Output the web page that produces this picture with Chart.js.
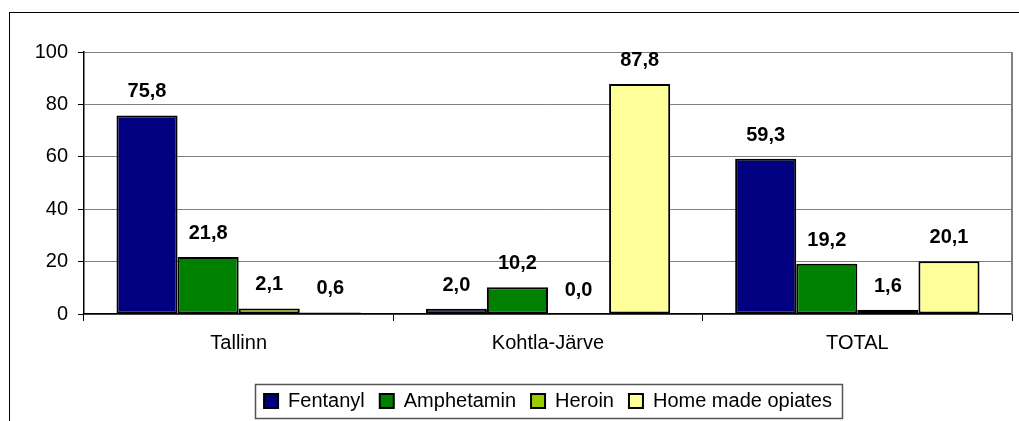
<!DOCTYPE html>
<html>
<head>
<meta charset="utf-8">
<script src="https://cdn.jsdelivr.net/npm/chart.js@4"></script>
<style>
  body { margin: 0; background: #fff; }
  #wrap { width: 1019px; height: 421px; }
</style>
</head>
<body>
<div id="wrap"><canvas id="barChart" width="1019" height="421"></canvas></div>
<script>
var categories = ['Tallinn', 'Kohtla-Järve', 'TOTAL'];
var fentanyl = [75.8, 2.0, 59.3];
var amphetamin = [21.8, 10.2, 19.2];
var heroin = [2.1, 0.0, 1.6];
var homeMade = [0.6, 87.8, 20.1];
var yTicks = [0, 20, 40, 60, 80, 100];

var font = 'Arial, "Liberation Sans", sans-serif';

// outer frame, right plot border, legend box
var framePlugin = {
    id: 'frame',
    afterLayout: function (chart) {
        // center legend under the plot area
        var lg = chart.legend, a = chart.chartArea;
        var shift = (a.left + a.right) / 2 - (lg.left + lg.right) / 2;
        lg.left += shift;
        lg.right += shift;
    },
    beforeDraw: function (chart) {
        var c = chart.ctx;
        c.save();
        c.fillStyle = '#fff';
        c.fillRect(0, 0, chart.width, chart.height);
        c.strokeStyle = '#000';
        c.lineWidth = 1;
        c.strokeRect(9.5, 12.5, 1200, 600);
        c.restore();
    },
    afterDraw: function (chart) {
        var c = chart.ctx, a = chart.chartArea;
        c.save();
        c.strokeStyle = '#808080';
        c.lineWidth = 2;
        c.beginPath();
        c.moveTo(a.right, a.top);
        c.lineTo(a.right, a.bottom);
        c.stroke();
        var boxes = chart.legend.legendHitBoxes;
        if (boxes && boxes.length) {
            var l = boxes[0].left - 9;
            var last = boxes[boxes.length - 1];
            var r = last.left + last.width + 10;
            var t = boxes[0].top - 7;
            var b = boxes[0].top + boxes[0].height + 7;
            c.lineWidth = 1.5;
            c.strokeStyle = '#555';
            c.strokeRect(Math.round(l) + 0.5, Math.round(t) + 0.5, Math.round(r - l), Math.round(b - t));
        }
        c.restore();
    }
};

// value labels above bars, decimal comma
var labelPlugin = {
    id: 'valueLabels',
    afterDatasetsDraw: function (chart) {
        var c = chart.ctx;
        c.save();
        c.font = 'bold 20px ' + font;
        c.fillStyle = '#000';
        c.textAlign = 'center';
        c.textBaseline = 'alphabetic';
        chart.data.datasets.forEach(function (ds, i) {
            chart.getDatasetMeta(i).data.forEach(function (bar, j) {
                var txt = ds.data[j].toFixed(1).replace('.', ',');
                c.fillText(txt, bar.x, bar.y - 18);
            });
        });
        c.restore();
    }
};

var ctx = document.getElementById('barChart').getContext('2d');
var myChart = new Chart(ctx, {
    type: 'bar',
    data: {
        labels: categories,
        datasets: [
            { label: 'Fentanyl', data: fentanyl, backgroundColor: '#000080' },
            { label: 'Amphetamin', data: amphetamin, backgroundColor: '#008000' },
            { label: 'Heroin', data: heroin, backgroundColor: '#99cc00' },
            { label: 'Home made opiates', data: homeMade, backgroundColor: '#ffff99' }
        ]
    },
    options: {
        responsive: false,
        animation: false,
        devicePixelRatio: 1,
        layout: { padding: { left: 20, right: 7, top: 52, bottom: 0 } },
        datasets: {
            bar: {
                borderColor: '#000',
                borderWidth: 2,
                borderSkipped: false,
                barPercentage: 1,
                categoryPercentage: 0.79
            }
        },
        scales: {
            x: {
                afterFit: function (scale) { scale.height = 62; },
                grid: { display: true, drawOnChartArea: false, offset: true, tickColor: '#000', tickLength: 7 },
                border: { color: '#000', width: 1.5 },
                ticks: { color: '#000', font: { family: font, size: 20 }, padding: 10 }
            },
            y: {
                min: 0,
                max: 100,
                afterBuildTicks: function (scale) {
                    scale.ticks = yTicks.map(function (v) { return { value: v }; });
                },
                afterFit: function (scale) { scale.width = 64; },
                grid: { color: '#808080', lineWidth: 1, tickColor: '#000', tickLength: 6 },
                border: { color: '#000', width: 1.5 },
                ticks: { color: '#000', font: { family: font, size: 20 }, padding: 10 }
            }
        },
        plugins: {
            legend: {
                position: 'bottom',
                labels: {
                    color: '#000',
                    font: { family: font, size: 20 },
                    boxWidth: 14,
                    boxHeight: 14,
                    padding: 15,
                    generateLabels: function (chart) {
                        return chart.data.datasets.map(function (ds, i) {
                            return {
                                text: ds.label,
                                fillStyle: ds.backgroundColor,
                                strokeStyle: '#000',
                                lineWidth: 2,
                                datasetIndex: i
                            };
                        });
                    }
                }
            },
            tooltip: { enabled: false }
        }
    },
    plugins: [framePlugin, labelPlugin]
});
</script>
</body>
</html>
